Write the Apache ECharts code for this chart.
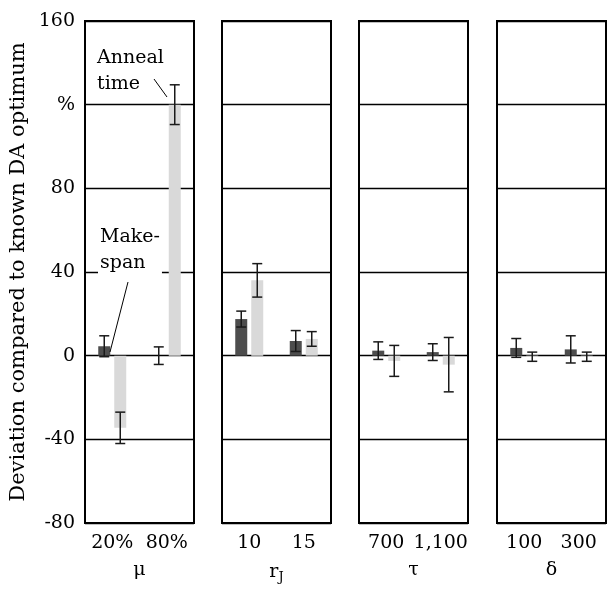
<!DOCTYPE html>
<html>
<head>
<meta charset="utf-8">
<script src="https://cdn.jsdelivr.net/npm/echarts@6/dist/echarts.min.js"></script>
<style>html,body{margin:0;padding:0;background:#fff}#c{width:616px;height:590px}</style>
</head>
<body>
<div id="c"></div>
<script>
// ---- data ----
const panelCategories = [["20%", "80%"], ["10", "15"], ["700", "1,100"], ["100", "300"]];
const panelNames = ["μ", "{r|r}{sub|J}", "τ", "δ"];
const makespanMean = [[4.5, 0], [17.5, 7], [2.4, 1.7], [3.7, 3]];
const makespanErr = [[5, 4.2], [3.8, 5], [4.2, 4], [4.5, 6.5]];
const annealMean = [[-34.5, 120], [36, 8], [-2.5, -4.3], [-0.5, -0.5]];
const annealErr = [[7.5, 9.5], [8, 3.5], [7.4, 13], [2.2, 2.2]];
const yMin = -80, yMax = 160, yStep = 40;
const yAxisTitle = "Deviation compared to known DA optimum";
const pctTick = 120;

// ---- layout / style ----
const FONT = "DejaVu Serif";
const FS = 19;
const gridLefts = [85, 222, 359, 497];
const gridTop = 21, gridW = 109, gridH = 502;
const barW = 12, barGapPx = 4;
const offset = (barW + barGapPx) / 2;
const darkColor = "#4d4d4d", lightColor = "#d9d9d9";

const grids = [], xAxes = [], yAxes = [], series = [];
for (let i = 0; i < 4; i++) {
  grids.push({ left: gridLefts[i], top: gridTop, width: gridW, height: gridH, show: true,
    borderColor: "#000", borderWidth: 2, backgroundColor: "transparent" });
  xAxes.push({ type: "category", gridIndex: i, data: panelCategories[i],
    axisLine: { show: false }, axisTick: { show: false },
    axisLabel: { color: "#000", fontFamily: FONT, fontSize: FS, margin: 11, interval: 0, hideOverlap: false },
    name: panelNames[i], nameLocation: "middle", nameGap: 38,
    nameTextStyle: { color: "#000", fontFamily: FONT, fontSize: FS,
      rich: { r: { fontFamily: FONT, fontSize: FS, color: "#000" },
              sub: { fontFamily: FONT, fontSize: 13, color: "#000", padding: [10, 0, 0, 0] } } } });
  yAxes.push({ type: "value", gridIndex: i, min: yMin, max: yMax, interval: yStep,
    axisLine: { show: false }, axisTick: { show: false },
    axisLabel: { show: i === 0, color: "#000", fontFamily: FONT, fontSize: FS, margin: 10,
      formatter: v => (v === pctTick ? "%" : String(v)) },
    splitLine: { show: true, lineStyle: { color: "#000", width: 1.3 } },
    name: i === 0 ? yAxisTitle : "", nameLocation: "middle", nameGap: 56,
    nameTextStyle: { color: "#000", fontFamily: FONT, fontSize: 21 } });

  series.push({ type: "bar", name: "Make-span", xAxisIndex: i, yAxisIndex: i,
    data: makespanMean[i], barWidth: barW, barGap: (barGapPx / barW * 100) + "%",
    itemStyle: { color: darkColor }, z: 3 });
  series.push({ type: "bar", name: "Anneal time", xAxisIndex: i, yAxisIndex: i,
    data: annealMean[i], barWidth: barW,
    itemStyle: { color: lightColor }, z: 3 });

  const mk = (means, errs, dx) => ({
    type: "custom", xAxisIndex: i, yAxisIndex: i, z: 5,
    data: means.map((m, k) => [k, m - errs[k], m + errs[k]]),
    encode: { x: 0, y: [1, 2] },
    renderItem: (params, api) => {
      const xv = api.value(0);
      const hi = api.coord([xv, api.value(2)]);
      const lo = api.coord([xv, api.value(1)]);
      const cx = hi[0] + dx, cap = 5;
      const st = { stroke: "#1a1a1a", lineWidth: 1.5 };
      return { type: "group", children: [
        { type: "line", shape: { x1: cx, y1: hi[1], x2: cx, y2: lo[1] }, style: st },
        { type: "line", shape: { x1: cx - cap, y1: hi[1], x2: cx + cap, y2: hi[1] }, style: st },
        { type: "line", shape: { x1: cx - cap, y1: lo[1], x2: cx + cap, y2: lo[1] }, style: st }
      ] };
    }
  });
  series.push(mk(makespanMean[i], makespanErr[i], -offset));
  series.push(mk(annealMean[i], annealErr[i], offset));
}

const chart = echarts.init(document.getElementById("c"), null, { renderer: "canvas" });
chart.setOption({
  backgroundColor: "#fff",
  animation: false,
  grid: grids, xAxis: xAxes, yAxis: yAxes, series: series,
  graphic: [
    { type: "text", left: 97, top: 45, z: 10,
      style: { text: "Anneal\ntime", font: FS + "px '" + FONT + "'", fill: "#000", lineHeight: 26 } },
    { type: "line", z: 10, shape: { x1: 154, y1: 79, x2: 167, y2: 97 }, style: { stroke: "#000", lineWidth: 1 } },
    { type: "text", left: 98, top: 224, z: 10,
      style: { text: "Make-\nspan", font: FS + "px '" + FONT + "'", fill: "#000", lineHeight: 26,
        backgroundColor: "#fff", padding: [0, 2, 2, 2] } },
    { type: "line", z: 10, shape: { x1: 128, y1: 282, x2: 110, y2: 352 }, style: { stroke: "#000", lineWidth: 1 } }
  ]
});
</script>
</body>
</html>
